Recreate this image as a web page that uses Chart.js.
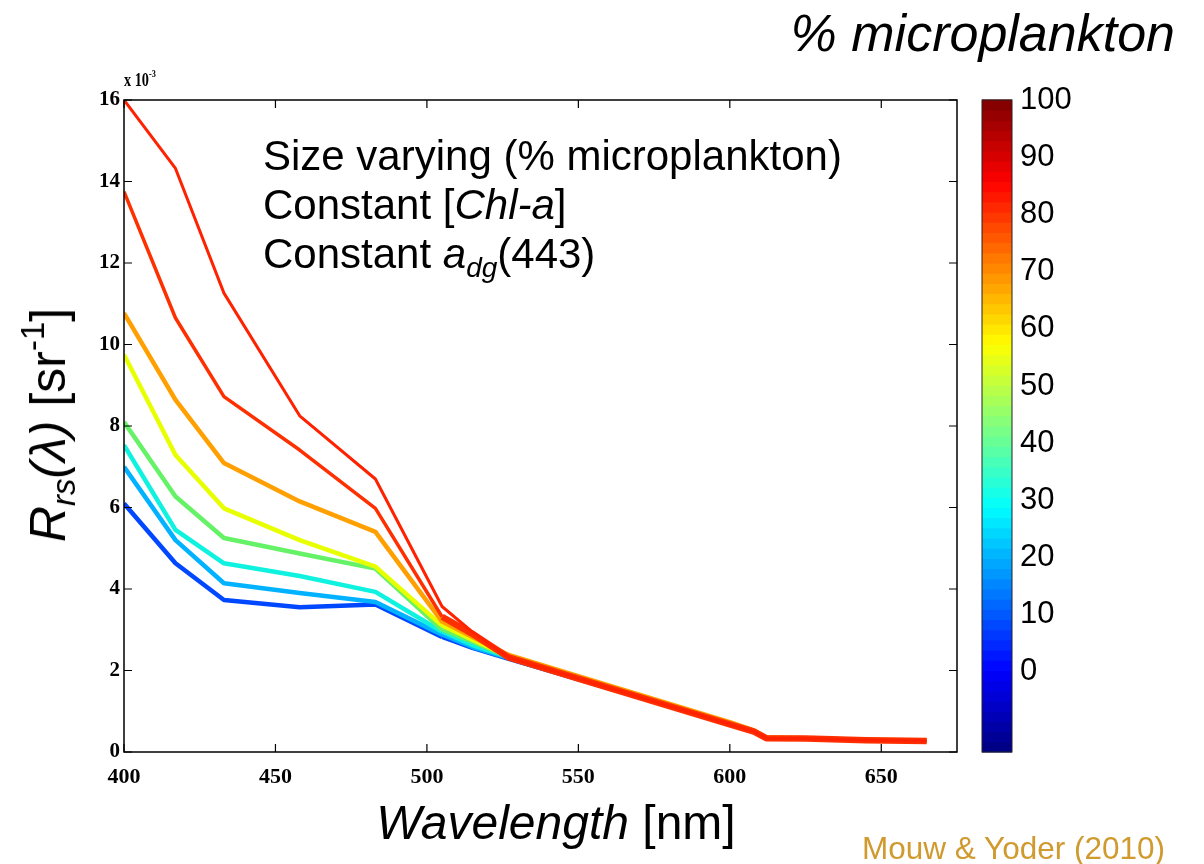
<!DOCTYPE html>
<html>
<head>
<meta charset="utf-8">
<script src="https://cdn.jsdelivr.net/npm/chart.js@4.4.1/dist/chart.umd.min.js"></script>
<style>
  html, body { margin:0; padding:0; background:#fff; }
  #wrap { position:relative; width:1204px; height:864px; overflow:hidden; font-family:"Liberation Sans", Arial, sans-serif; color:#000; }
  #c { position:absolute; left:0; top:0; }
  .t { position:absolute; white-space:nowrap; line-height:1; }
  sub, sup { line-height:0; }
</style>
</head>
<body>
<div id="wrap">
  <canvas id="c" width="1204" height="864"></canvas>
  <div class="t" style="right:29px; top:7px; font-size:52px; font-style:italic;">% microplankton</div>
  <div class="t" style="left:124px; top:70px; font-family:'Liberation Serif',serif; font-weight:bold; font-size:19px; transform:scaleX(0.75); transform-origin:left;">x 10<sup style="font-size:11px; vertical-align:9px;">-3</sup></div>
  <div class="t" style="left:263px; top:131px; font-size:42px; line-height:49px;">
    Size varying (% microplankton)<br>
    Constant [<i>Chl-a</i>]<br>
    Constant <i>a<sub style="font-size:28px; vertical-align:-9px;">dg</sub></i>(443)
  </div>
  <div class="t" style="left:48px; top:425px; font-size:50px; transform:translate(-50%,-50%) rotate(-90deg);"><i>R<sub style="font-size:33px; vertical-align:-10px;">rs</sub>(&lambda;)</i> [sr<sup style="font-size:33px; vertical-align:21px;">-1</sup>]</div>
  <div class="t" style="left:556px; top:799px; font-size:48px; transform:translateX(-50%);"><i>Wavelength</i> [nm]</div>
  <div class="t" style="right:39px; top:833px; font-size:31.5px; color:#d09a2e;">Mouw &amp; Yoder (2010)</div>
</div>
<script>
// ---- data ----
const wavelengths = [400, 417, 433, 458, 483, 505, 515, 527, 550, 600, 608, 612, 625, 645, 665];
const rrsRed100    = [16.0, 14.32, 11.26, 8.25, 6.7, 3.57, 2.95, 2.32, 1.8, 0.68, 0.5, 0.34, 0.33, 0.29, 0.27];
const rrsRed90     = [13.75, 10.65, 8.72, 7.41, 5.98, 3.32, 2.9, 2.32, 1.8, 0.68, 0.5, 0.34, 0.33, 0.29, 0.27];
const rrsOrange70  = [10.77, 8.64, 7.09, 6.15, 5.4, 3.2, 2.82, 2.38, 1.86, 0.73, 0.53, 0.36, 0.34, 0.3, 0.28];
const rrsYellow55  = [9.75, 7.29, 5.98, 5.2, 4.55, 3.1, 2.75, 2.34, 1.82, 0.7, 0.5, 0.34, 0.33, 0.29, 0.27];
const rrsGreen40   = [8.1, 6.27, 5.25, 4.87, 4.5, 3.0, 2.7, 2.33, 1.81, 0.69, 0.5, 0.34, 0.33, 0.29, 0.27];
const rrsCyan30    = [7.53, 5.45, 4.63, 4.32, 3.93, 2.95, 2.62, 2.32, 1.8, 0.68, 0.5, 0.34, 0.33, 0.29, 0.27];
const rrsLtBlue20  = [7.0, 5.2, 4.14, 3.9, 3.68, 2.88, 2.57, 2.3, 1.79, 0.68, 0.5, 0.34, 0.33, 0.29, 0.27];
const rrsBlue10    = [6.1, 4.63, 3.73, 3.55, 3.62, 2.82, 2.55, 2.28, 1.78, 0.68, 0.5, 0.34, 0.33, 0.29, 0.27];
const xTicks = [400, 450, 500, 550, 600, 650];
const yTicks = [0, 2, 4, 6, 8, 10, 12, 14, 16];
const colorbarLabels = [0, 10, 20, 30, 40, 50, 60, 70, 80, 90, 100];

// ---- styling ----
const series = [
  { data: rrsRed100,   color: '#ff2200', w: 3,   tail: 3 },
  { data: rrsRed90,    color: '#ff3000', w: 3.5, tail: 6.5 },
  { data: rrsOrange70, color: '#ffa000', w: 4.5, tail: 4.5 },
  { data: rrsYellow55, color: '#e8ff00', w: 4.5, tail: 4 },
  { data: rrsGreen40,  color: '#66f266', w: 4.5, tail: 4 },
  { data: rrsCyan30,   color: '#10f2e0', w: 4.5, tail: 4 },
  { data: rrsLtBlue20, color: '#00b2ff', w: 4.5, tail: 4 },
  { data: rrsBlue10,   color: '#0048ff', w: 4.5, tail: 4 }
];

function jet(t) {
  const c = v => Math.max(0, Math.min(1, v));
  const r = c(1.5 - Math.abs(4 * t - 3));
  const g = c(1.5 - Math.abs(4 * t - 2));
  const b = c(1.5 - Math.abs(4 * t - 1));
  return `rgb(${Math.round(r * 255)},${Math.round(g * 255)},${Math.round(b * 255)})`;
}

const framePlugin = {
  id: 'frame',
  afterDraw(chart) {
    const { ctx, chartArea: a, scales } = chart;
    ctx.save();
    ctx.strokeStyle = '#000';
    ctx.lineWidth = 1.5;
    ctx.strokeRect(a.left, a.top, a.right - a.left, a.bottom - a.top);
    ctx.lineWidth = 1.2;
    const L = 8;
    ctx.beginPath();
    scales.x.ticks.forEach(t => {
      const px = scales.x.getPixelForValue(t.value);
      ctx.moveTo(px, a.bottom); ctx.lineTo(px, a.bottom - L);
      ctx.moveTo(px, a.top); ctx.lineTo(px, a.top + L);
    });
    scales.y.ticks.forEach(t => {
      const py = scales.y.getPixelForValue(t.value);
      ctx.moveTo(a.left, py); ctx.lineTo(a.left + L, py);
      ctx.moveTo(a.right, py); ctx.lineTo(a.right - L, py);
    });
    ctx.stroke();

    // colorbar
    const cb = scales.cb;
    const x0 = cb.left + 25, w = 30;
    const top = cb.top, bot = cb.bottom;
    const n = 64;
    const h = (bot - top) / n;
    for (let i = 0; i < n; i++) {
      ctx.fillStyle = jet((i + 0.5) / n);
      ctx.fillRect(x0, bot - (i + 1) * h - 0.5, w, h + 1);
    }
    ctx.strokeStyle = '#222';
    ctx.lineWidth = 1;
    ctx.strokeRect(x0, top, w, bot - top);
    ctx.restore();
  }
};

new Chart(document.getElementById('c'), {
  type: 'line',
  data: {
    datasets: series.map(s => ({
      data: wavelengths.map((x, i) => ({ x, y: s.data[i] })),
      borderColor: s.color,
      borderWidth: s.w,
      pointRadius: 0,
      tension: 0,
      fill: false,
      borderJoinStyle: 'round',
      borderCapStyle: 'butt',
      segment: { borderWidth: ctx => (ctx.p0.parsed.x >= 505 ? s.tail : s.w) }
    }))
  },
  options: {
    responsive: false,
    animation: false,
    events: [],
    layout: { padding: { top: 100, left: 0, right: 0, bottom: 0 } },
    plugins: { legend: { display: false }, tooltip: { enabled: false } },
    scales: {
      x: {
        type: 'linear', min: 400, max: 675,
        afterBuildTicks: s => { s.ticks = xTicks.map(v => ({ value: v })); },
        afterFit: s => { s.height = 112; },
        grid: { display: false, drawTicks: false },
        border: { display: false },
        ticks: { color: '#000', padding: 12, maxRotation: 0, font: { family: 'Liberation Serif', weight: 'bold', size: 22 } }
      },
      y: {
        type: 'linear', min: 0, max: 16,
        afterBuildTicks: s => { s.ticks = yTicks.map(v => ({ value: v })); },
        afterFit: s => { s.width = 124; },
        grid: { display: false, drawTicks: false },
        border: { display: false },
        ticks: { color: '#000', padding: 4, font: { family: 'Liberation Serif', weight: 'bold', size: 21 } }
      },
      cb: {
        type: 'linear', position: 'right', min: -14, max: 100,
        afterBuildTicks: s => { s.ticks = colorbarLabels.map(v => ({ value: v })); },
        afterFit: s => { s.width = 247; },
        grid: { display: false, drawTicks: true, tickLength: 63 },
        border: { display: false },
        ticks: { color: '#000', padding: 0, font: { family: 'Liberation Sans', size: 31 } }
      }
    }
  },
  plugins: [framePlugin]
});
</script>
</body>
</html>
